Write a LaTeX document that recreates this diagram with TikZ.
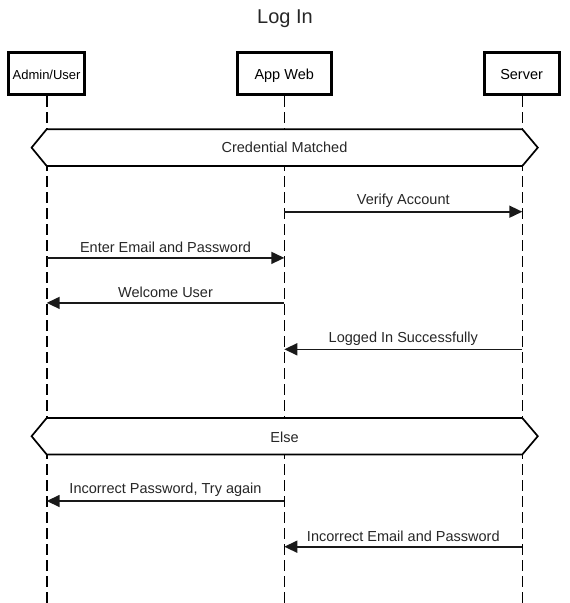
\documentclass[tikz,border=0pt]{standalone}
\usepackage{fontspec}
\setmainfont{Liberation Sans}
\usetikzlibrary{arrows.meta}
\begin{document}
\begin{tikzpicture}[x=1pt,y=-1pt,
  actor/.style={draw=black,line width=3pt,fill=white,minimum height=42pt,inner sep=0pt,text height=12pt,text depth=0pt,font=\fontsize{14.5}{17}\selectfont},
  lifeline/.style={draw=black,line width=1.6pt,dash pattern=on 11pt off 5pt},
  frame/.style={draw=black,line width=1.7pt,fill=white,line join=miter},
  lbl/.style={font=\fontsize{14.5}{17}\selectfont,text=black!85,inner sep=0pt},
  msg/.style={draw=black!90,line width=1.6pt,-{Triangle[length=13pt,width=12pt]}}
]
\useasboundingbox (0,0) rectangle (570,603);
% title
\node[font=\fontsize{20}{24}\selectfont,text=black!85] (title) at (285,19) {Log In};
% lifeline coordinates
\coordinate (aB) at (46.7,603);
\coordinate (wB) at (284.3,603);
\coordinate (sB) at (522.3,603);
\coordinate (aT) at (46.7,96);
\coordinate (wT) at (284.3,96);
\coordinate (sT) at (522.3,96);
\draw[lifeline] (aT) -- (aB);
\draw[lifeline] (wT) -- (wB);
\draw[lifeline] (sT) -- (sB);
% actors
\node[actor,minimum width=76pt,font=\fontsize{13}{15}\selectfont] (admin) at (46.6,73.4) {Admin/User};
\node[actor,minimum width=94pt] (appweb) at (284.2,73.4) {App Web};
\node[actor,minimum width=75pt] (server) at (521.6,73.4) {Server};
% frame 1
\draw[frame] (46.7,129.2) -- (522.3,129.2) -- (537.8,147.6) -- (522.3,166) -- (46.7,166) -- (31.6,147.6) -- cycle;
\node[lbl] (f1) at (284.5,147.5) {Credential Matched};
% frame 2
\draw[frame] (46.7,418) -- (522.3,418) -- (537.8,436.2) -- (522.3,454.5) -- (46.7,454.5) -- (31.6,436.2) -- cycle;
\node[lbl] (f2) at (284.5,437.5) {Else};
% message endpoints
\coordinate (m1a) at (284.3,211.7); \coordinate (m1b) at (522.3,211.7);
\coordinate (m2a) at (46.7,257.9);  \coordinate (m2b) at (284.3,257.9);
\coordinate (m3a) at (284.3,302.9); \coordinate (m3b) at (46.7,302.9);
\coordinate (m4a) at (522.3,349.3); \coordinate (m4b) at (284.3,349.3);
\coordinate (m5a) at (284.3,501);   \coordinate (m5b) at (46.7,501);
\coordinate (m6a) at (522.3,546.7); \coordinate (m6b) at (284.3,546.7);
\draw[msg] (m1a) -- (m1b);
\draw[msg] (m2a) -- (m2b);
\draw[msg] (m3a) -- (m3b);
\draw[msg] (m4a) -- (m4b);
\draw[msg] (m5a) -- (m5b);
\draw[msg] (m6a) -- (m6b);
\node[lbl] (l1) at (403.3,201) {Verify Account};
\node[lbl] (l2) at (165.5,247) {Enter Email and Password};
\node[lbl] (l3) at (165.5,292.5) {Welcome User};
\node[lbl] (l4) at (403.3,339) {Logged In Successfully};
\node[lbl] (l5) at (165.5,490) {Incorrect Password, Try again};
\node[lbl] (l6) at (403.3,536) {Incorrect Email and Password};
\end{tikzpicture}
\end{document}
